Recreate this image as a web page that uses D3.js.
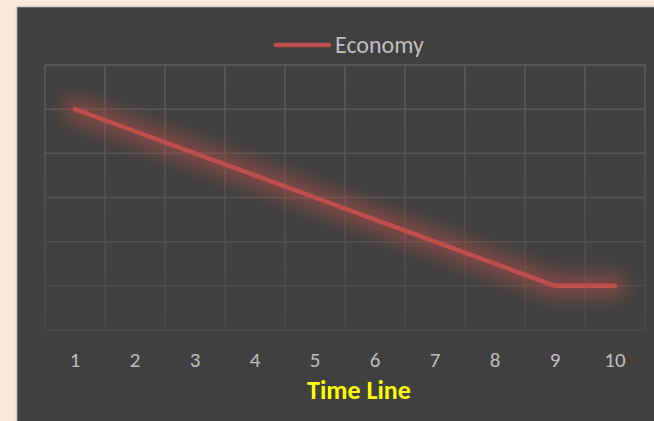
<!DOCTYPE html>
<html>
<head>
<meta charset="utf-8">
<script src="https://cdn.jsdelivr.net/npm/d3@7"></script>
<style>
  html, body { margin: 0; padding: 0; background: #fde9db; }
  svg { display: block; }
</style>
</head>
<body>
<svg id="chart" width="654" height="421"></svg>
<script>
const categories = [1, 2, 3, 4, 5, 6, 7, 8, 9, 10];
const economy = [5, 4.5, 4, 3.5, 3, 2.5, 2, 1.5, 1, 1];
const yTicks = [0, 1, 2, 3, 4, 5, 6];
const seriesName = "Economy";
const axisTitle = "Time Line";

const svg = d3.select("#chart");
const W = 654, H = 421;
const fontStack = "Carlito, Lato, 'Open Sans', sans-serif";

svg.append("rect").attr("width", W).attr("height", H).attr("fill", "#fde9db");
svg.append("rect").attr("x", 16.5).attr("y", 6.5).attr("width", W + 10).attr("height", H + 10)
  .attr("fill", "#404040").attr("stroke", "#d6d6d6").attr("stroke-width", 1.5);

const defs = svg.append("defs");
const glow = defs.append("filter").attr("id", "glow")
  .attr("x", "-20%").attr("y", "-60%").attr("width", "140%").attr("height", "220%");
glow.append("feGaussianBlur").attr("in", "SourceGraphic").attr("stdDeviation", 9);

const vgrad = defs.append("linearGradient").attr("id", "vgrad")
  .attr("gradientUnits", "userSpaceOnUse").attr("x1", 0).attr("y1", 65).attr("x2", 0).attr("y2", 330);
vgrad.append("stop").attr("offset", 0).attr("stop-color", "#5c5c5c");
vgrad.append("stop").attr("offset", 1).attr("stop-color", "#484848");

const x = d3.scaleBand().domain(categories).range([45, 645]).padding(0);
const y = d3.scaleLinear().domain([0, 6]).range([330, 65]);

const grid = svg.append("g");
const shade = d3.scaleLinear().domain([0, 6]).range(["#4a4a4a", "#5c5c5c"]);
grid.selectAll("line.h").data(yTicks).join("line")
  .attr("class", "h")
  .attr("x1", x.range()[0]).attr("x2", x.range()[1])
  .attr("y1", d => y(d)).attr("y2", d => y(d))
  .attr("stroke", d => shade(d)).attr("stroke-width", 1.5);
const edges = categories.map(c => x(c)).concat([x.range()[1]]);
grid.selectAll("line.v").data(edges).join("line")
  .attr("class", "v")
  .attr("x1", d => d).attr("x2", d => d)
  .attr("y1", y(6)).attr("y2", y(0))
  .attr("stroke", "url(#vgrad)").attr("stroke-width", 1.5);

const line = d3.line()
  .x((d, i) => x(categories[i]) + x.bandwidth() / 2)
  .y(d => y(d));

svg.append("path").datum(economy)
  .attr("d", line).attr("fill", "none")
  .attr("stroke", "#c0504d").attr("stroke-width", 22).attr("stroke-opacity", 0.55)
  .attr("stroke-linejoin", "round").attr("stroke-linecap", "round")
  .attr("filter", "url(#glow)");

svg.append("path").datum(economy)
  .attr("d", line).attr("fill", "none")
  .attr("stroke", "#c0504d").attr("stroke-width", 4.5)
  .attr("stroke-linejoin", "round").attr("stroke-linecap", "round");

svg.append("g").selectAll("text").data(categories).join("text")
  .attr("x", d => x(d) + x.bandwidth() / 2)
  .attr("y", 367)
  .attr("text-anchor", "middle")
  .attr("font-family", fontStack).attr("font-size", 21)
  .attr("fill", "#bfbfbf")
  .text(d => d);

svg.append("text")
  .attr("x", 359).attr("y", 399)
  .attr("text-anchor", "middle")
  .attr("font-family", fontStack).attr("font-size", 26).attr("font-weight", "bold")
  .attr("fill", "#ffff00")
  .text(axisTitle);

const lg = svg.append("g");
lg.append("line").attr("x1", 276).attr("x2", 329).attr("y1", 45).attr("y2", 45)
  .attr("stroke", "#c0504d").attr("stroke-width", 4.5).attr("stroke-linecap", "round");
lg.append("text").attr("x", 335).attr("y", 53)
  .attr("font-family", fontStack).attr("font-size", 24)
  .attr("fill", "#bfbfbf")
  .text(seriesName);
</script>
</body>
</html>
